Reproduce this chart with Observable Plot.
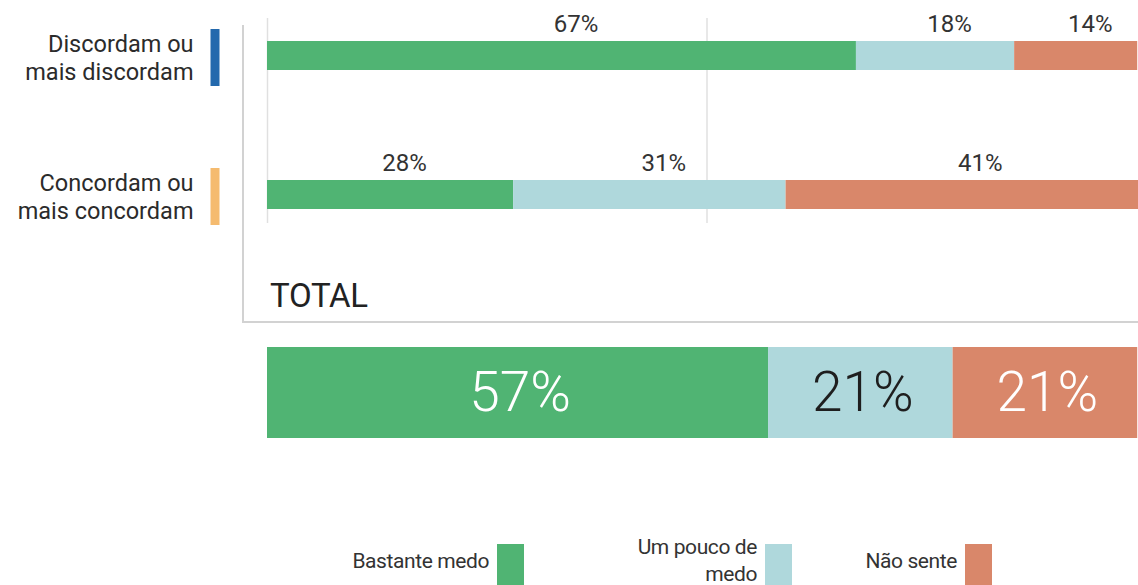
<!DOCTYPE html>
<html>
<head>
<meta charset="utf-8">
<script src="https://cdn.jsdelivr.net/npm/d3@7"></script>
<script src="https://cdn.jsdelivr.net/npm/@observablehq/plot@0.6"></script>
<style>
  html, body { margin: 0; padding: 0; background: #fff; }
  body { width: 1138px; height: 585px; position: relative; overflow: hidden; font-family: Roboto, sans-serif; color: #333; }
  .box { position: absolute; left: 242px; top: 25px; width: 900px; height: 296px; border-left: 2px solid #d2d2d2; border-bottom: 2px solid #d2d2d2; }
  #top { position: absolute; left: 0; top: 0; }
  #total { position: absolute; left: 0; top: 347px; }
  .total-title { position: absolute; left: 270px; top: 276px; font-size: 33px; color: #222; letter-spacing: -0.3px; }
  .legend-item { position: absolute; top: 534px; height: 54px; display: flex; align-items: center; gap: 8px; }
  .legend-item span { font-size: 21px; color: #333; text-align: right; max-width: 148px; line-height: 27px; letter-spacing: -0.4px; }
  .legend-item i { display: block; width: 27px; height: 44px; align-self: flex-start; margin-top: 10px; flex: none; }
</style>
</head>
<body>
<div class="box"></div>
<div id="top"></div>
<div class="total-title" id="totalTitle"></div>
<div id="total"></div>
<div id="legend"></div>
<script>
// ---- data ----
const groups = ["Discordam ou\nmais discordam", "Concordam ou\nmais concordam"];
const levels = ["Bastante medo", "Um pouco de medo", "Não sente"];
const discordam = [67, 18, 14];
const concordam = [28, 31, 41];
const total = [57, 21, 21];
const totalLabel = "TOTAL";

// ---- styling ----
const levelColors = ["#50b473", "#afd8dc", "#d9876a"];
const groupColors = ["#2369ad", "#f5bb6f"];

const groupValues = [discordam, concordam];
const topRows = [];
groups.forEach((g, gi) => levels.forEach((l, li) => topRows.push({group: g, level: l, value: groupValues[gi][li]})));
const totalRows = levels.map((l, li) => ({level: l, value: total[li]}));

const topPlot = Plot.plot({
  width: 1138, height: 330,
  marginLeft: 267, marginRight: -8, marginTop: 18, marginBottom: 107,
  style: {background: "transparent", fontFamily: "Roboto, sans-serif", overflow: "hidden"},
  x: {domain: [0, 100], axis: null},
  y: {domain: groups, axis: null, paddingInner: 0.5914, paddingOuter: 0.0305, align: 1},
  color: {domain: levels, range: levelColors},
  marks: [
    Plot.ruleX([0, 50], {stroke: "#e0e0e0", strokeWidth: 1.5}),
    Plot.barX(topRows, Plot.stackX({x: "value", y: "group", fill: "level", insetTop: 14, insetBottom: 14})),
    Plot.text(topRows, Plot.stackX({x: "value", y: "group", text: d => d.value + "%", dy: -31.5, dx: 14, fontSize: 24, fill: "#333"})),
    Plot.text(groups, {y: d => d, text: d => d, frameAnchor: "left", textAnchor: "end", dx: -74, dy: 1, fontSize: 23.5, lineHeight: 1.2, fill: "#2b2b2b", letterSpacing: "-0.2px"}),
    Plot.tickX(groups, {x: () => 0, y: d => d, stroke: (d, i) => groupColors[i], strokeWidth: 9, dx: -52.5, dy: 2})
  ]
});
document.getElementById("top").appendChild(topPlot);

document.getElementById("totalTitle").textContent = totalLabel;

const totalPlot = Plot.plot({
  width: 1138, height: 91,
  marginLeft: 267, marginRight: -8, marginTop: 0, marginBottom: 0,
  style: {background: "transparent", fontFamily: "Roboto, sans-serif", overflow: "hidden"},
  x: {domain: [0, 100], axis: null},
  color: {domain: levels, range: levelColors},
  marks: [
    Plot.barX(totalRows, Plot.stackX({x: "value", fill: "level"})),
    Plot.text(totalRows, Plot.stackX({x: "value", text: d => d.level !== levels[1] ? d.value + "%" : "", fill: "white", fontSize: 55, fontWeight: 300, dx: 2})),
    Plot.text(totalRows, Plot.stackX({x: "value", text: d => d.level === levels[1] ? d.value + "%" : "", fill: "#1e1e1e", fontSize: 55, fontWeight: 300, dx: 2}))
  ]
});
document.getElementById("total").appendChild(totalPlot);

// legend (layout: right edge of each swatch)
const legendRight = [524, 792, 992];
const legend = document.getElementById("legend");
levels.forEach((l, i) => {
  const item = document.createElement("div");
  item.className = "legend-item";
  item.style.right = (1138 - legendRight[i]) + "px";
  const s = document.createElement("span");
  s.textContent = l;
  const sw = document.createElement("i");
  sw.style.background = levelColors[i];
  item.appendChild(s);
  item.appendChild(sw);
  legend.appendChild(item);
});
</script>
</body>
</html>
